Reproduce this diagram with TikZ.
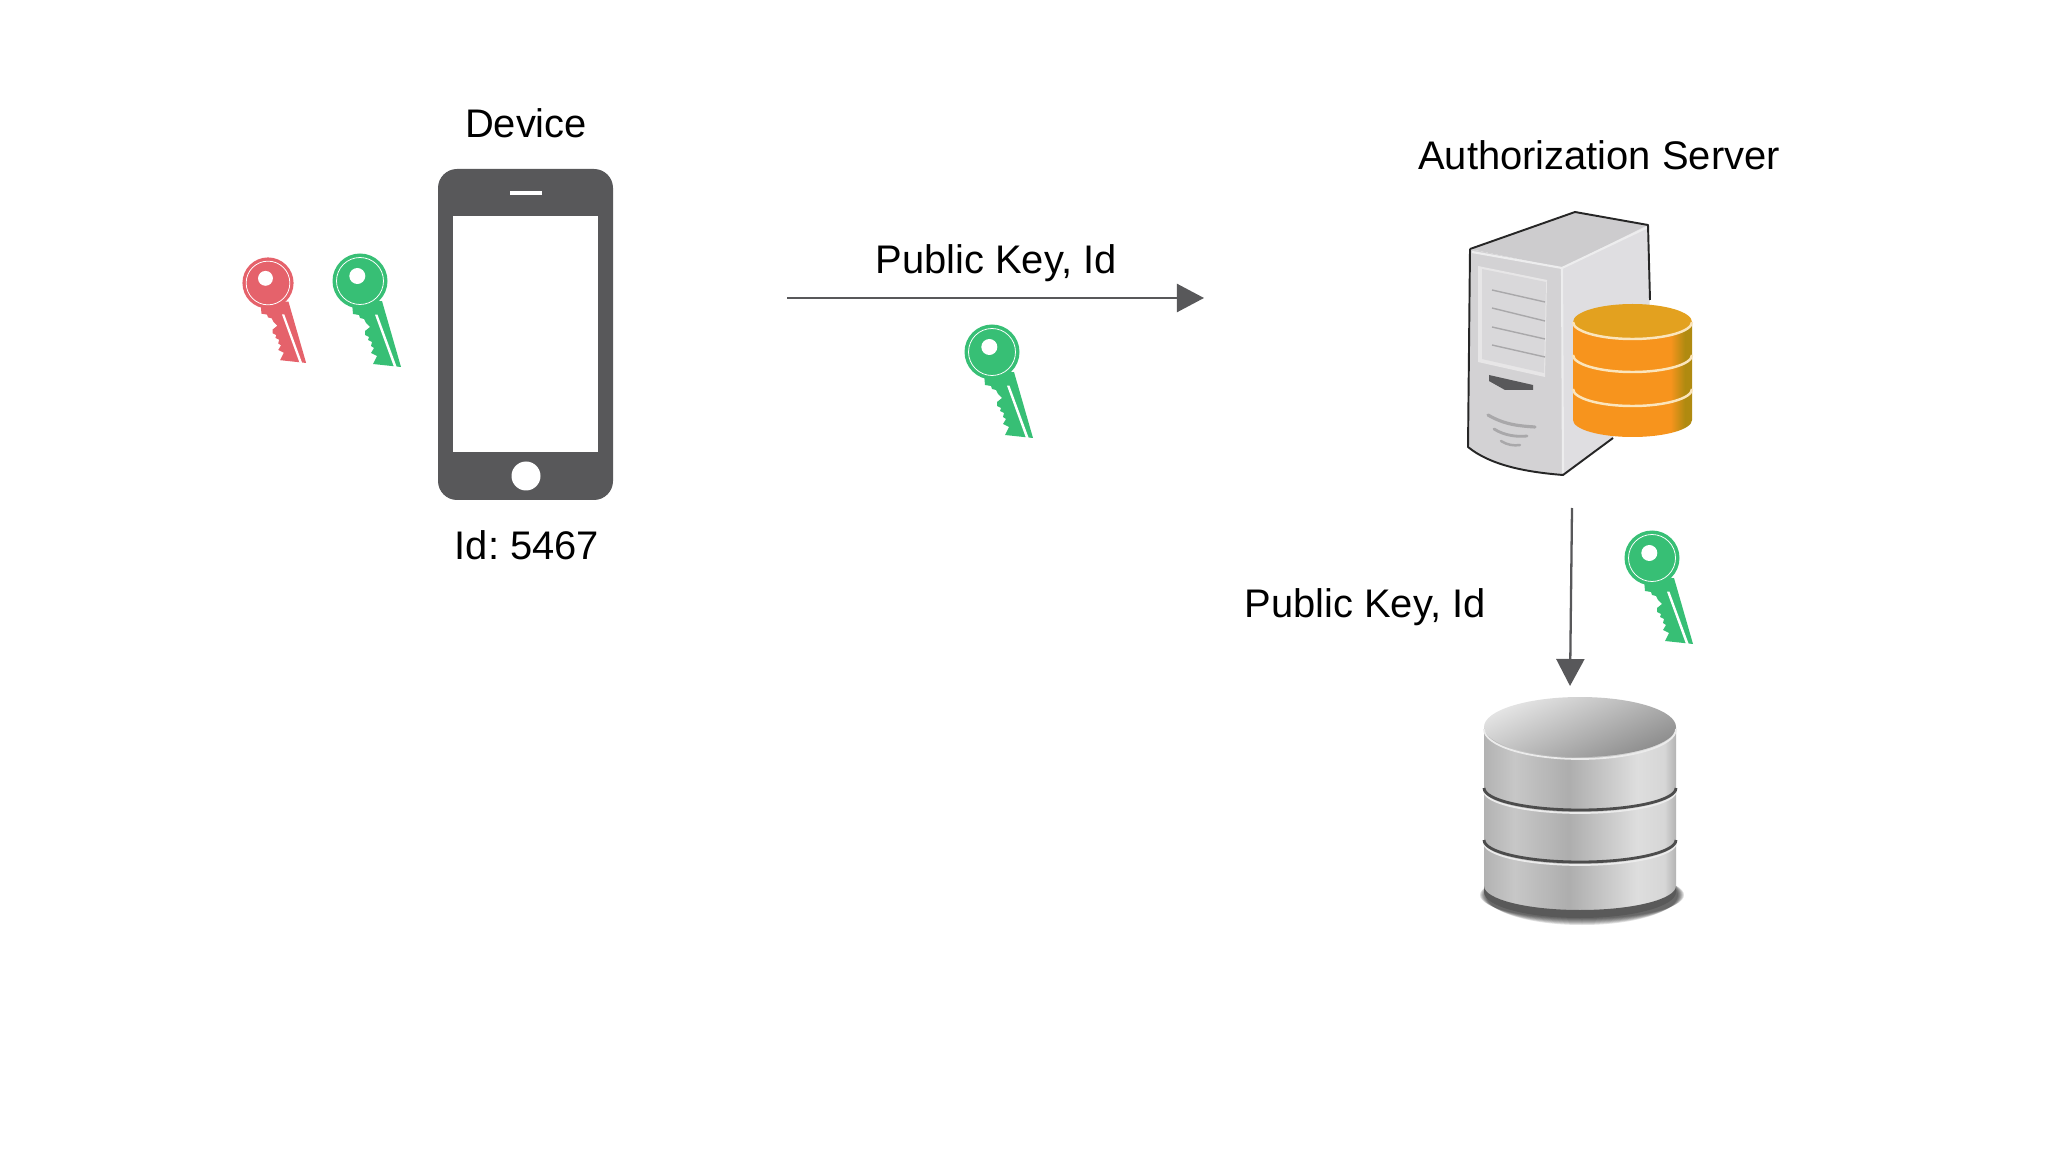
\documentclass[tikz,border=0pt]{standalone}
\usepackage{fontspec}
\setmainfont{Liberation Sans}
\usetikzlibrary{arrows.meta}
\definecolor{phonegrey}{HTML}{58585A}
\definecolor{linegrey}{HTML}{58585A}
\definecolor{keygreen}{HTML}{37BF75}
\definecolor{keyred}{HTML}{E5626B}
\definecolor{srvtop}{HTML}{CDCCCE}
\definecolor{srvfront}{HTML}{D3D2D4}
\definecolor{srvside}{HTML}{DFDEE1}
\definecolor{srvpanel}{HTML}{D9D8DA}
\definecolor{srvline}{HTML}{A9A8AA}
\definecolor{cyltop}{HTML}{E3A11F}
\definecolor{cylband}{HTML}{FBE5BC}
\definecolor{cylmain}{HTML}{F7941D}
\definecolor{cylshade}{HTML}{B08A10}
\pgfdeclarehorizontalshading{cylbody}{100bp}{color(0bp)=(cylmain);color(66bp)=(cylmain);
  color(72bp)=(cylshade);color(100bp)=(cylshade)}
\pgfdeclarehorizontalshading{dbbody}{100bp}{color(0bp)=(black!32);color(25bp)=(black!30);
  color(33bp)=(black!22);color(47bp)=(black!32);color(65bp)=(black!13);color(72bp)=(black!16);
  color(75bp)=(black!30);color(100bp)=(black!30)}
\tikzset{
  label text/.style={anchor=base,inner sep=0pt,font=\fontsize{11.35}{13}\selectfont\frenchspacing},
  flow/.style={draw=linegrey,line width=.65pt,-{Triangle[length=.27cm,width=.28cm]}},
  pics/keyicon/.style={code={
    \fill[#1] (0,0) circle [radius=27.5];
    \fill[#1] (-8,22) -- (-7,33) -- (-1,34) -- (0,37) -- (4,38) -- (6,42) -- (10,46) -- (5,50) -- (5,54) -- (9,56) -- (8,59)
      -- (12,61) -- (11,65) -- (14,67) -- (11,72) -- (17,75) -- (13,83) -- (41,86) -- (22,20) -- cycle;
    \draw[white,line width=.22pt] (0,0) circle [radius=23.5];
    \fill[white] (-2.7,-5) circle [radius=8];
    \fill[white] (15,33.7) -- (17.5,33.7) -- (36.7,86) -- (34,86) -- cycle;
  }}
}
\begin{document}
\begin{tikzpicture}[x=0.01cm,y=-0.01cm]
  \useasboundingbox (0,0) rectangle (2048,1152);
  % keys
  \pic at (268,283) [scale=.93] {keyicon=keyred};
  \pic at (360,281) {keyicon=keygreen};
  \pic at (992,352) {keyicon=keygreen};
  \pic at (1652,558) {keyicon=keygreen};
  % phone
  \fill[phonegrey,rounded corners=.19cm] (438,169) rectangle (613,500);
  \fill[white] (453,216) rectangle (598,452);
  \fill[white] (510,191) rectangle (542,195);
  \fill[white] (526,476) circle [radius=14.5];
  \node[label text] (device) at (526,138) {Device};
  \node[label text] (deviceid) at (527,560) {Id: 5467};
  % server box
  \fill[srvfront] (1470,249) -- (1562,268) -- (1563,475) .. controls (1525,472) and (1490,465) .. (1468,447) -- cycle;
  \fill[srvtop] (1470,249) -- (1575,212) -- (1648,225) -- (1562,268) -- cycle;
  \fill[srvside] (1562,268) -- (1648,225) -- (1650,320) -- (1613,438) -- (1563,475) -- cycle;
  \draw[white!60!srvfront,line width=.6pt] (1472,252) -- (1562,268) -- (1648,227) (1562,268) -- (1563,473);
  \fill[white!45!srvfront] (1478,266) -- (1547,280) -- (1545,377) -- (1478,362) -- cycle;
  \fill[srvpanel] (1482,269) -- (1546,282) -- (1544,373) -- (1482,359) -- cycle;
  \foreach \ya/\yb in {290/302,308/321,327/339,345/357} \draw[srvline,line width=.4pt] (1492,\ya) -- (1545,\yb);
  \fill[phonegrey] (1489,375) -- (1533,385) -- (1533,390) -- (1505,390) -- (1489,381) -- cycle;
  \draw[srvline,line width=.9pt,line cap=round] (1488,415) .. controls (1505,425) and (1520,426) .. (1535,427);
  \draw[srvline,line width=.8pt,line cap=round] (1494,429) .. controls (1505,436) and (1518,437) .. (1527,436);
  \draw[srvline,line width=.7pt,line cap=round] (1501,441) .. controls (1507,445) and (1514,446) .. (1520,445);
  \draw[black!85,line width=.55pt,line join=round] (1470,249) -- (1575,212) -- (1648,225) -- (1650,300)
    (1613,438) -- (1563,475) .. controls (1525,472) and (1490,465) .. (1468,447) -- (1470,249);
  % orange cylinder
  \shade[shading=cylbody] (1573,322) -- (1573,420) arc (180:0:59.5 and 17) -- (1692,322) -- cycle;
  \fill[cyltop] (1632.5,322) ellipse [x radius=59.5,y radius=18];
  \foreach \yb in {322,355,389} \draw[cylband,line width=.7pt] (1692,\yb) arc (0:180:59.5 and 17);
  % grey disks
  \foreach \wd/\ht in {102/24,101/25,100/26,99/27,98/28,97/29,96/30}
    \fill[black,opacity=.12] (1582,895) ellipse [x radius=\wd,y radius=\ht];
  \shade[shading=dbbody] (1484,727) -- (1484,890) arc (180:0:96 and 24) -- (1676,727) -- cycle;
  \shade[top color=black!10,bottom color=black!45,shading angle=25] (1580,727) ellipse [x radius=96,y radius=30];
  \draw[black!8,line width=.5pt] (1676,729) arc (0:180:96 and 30);
  \foreach \yb in {788,840} {
    \draw[black!8,line width=.5pt] (1676,\yb+3) arc (0:180:96 and 22);
    \draw[black!70,line width=.8pt] (1676,\yb) arc (0:180:96 and 22);
  }
  \fill[black!65] (1676,886) arc (0:180:96 and 24) -- (1484,892) arc (180:0:96 and 26) -- cycle;
  % arrows
  \coordinate (pubstart) at (787,298);
  \coordinate (pubend) at (1204,298);
  \coordinate (srvout) at (1572,508);
  \coordinate (dbin) at (1570,686);
  \draw[flow] (pubstart) -- (pubend);
  \draw[flow] (srvout) -- (dbin);
  \node[label text] (pubtop) at (996,274) {Public Key, Id};
  \node[label text] (server) at (1599,170) {Authorization Server};
  \node[label text] (pubdown) at (1365,617) {Public Key, Id};
\end{tikzpicture}
\end{document}
